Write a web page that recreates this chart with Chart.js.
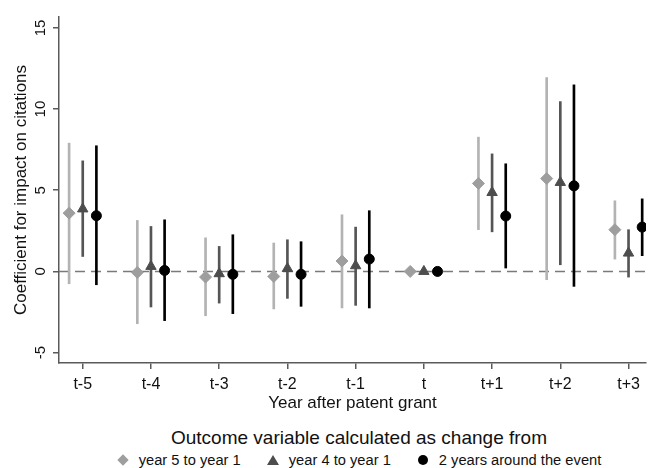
<!DOCTYPE html>
<html>
<head>
<meta charset="utf-8">
<script src="https://cdn.jsdelivr.net/npm/chart.js@4"></script>
<style>
  body { margin: 0; background: #fff; font-family: Arial, "Liberation Sans", sans-serif; }
  #wrap { position: relative; width: 653px; height: 468px; }
  #plot { position: absolute; left: 0; top: 0; width: 653px; height: 415px; }
  #legend { position: absolute; left: 62px; top: 426px; width: 594px; text-align: center; color: #111; }
  #legend .title { font-size: 19px; line-height: 24px; }
  #legend .items { display: flex; justify-content: center; align-items: center; font-size: 14.7px; line-height: 20px; }
  #legend .item { display: flex; align-items: center; margin: 0 13px; }
  #legend .mk { width: 12px; height: 12px; margin-right: 10px; position: relative; }
  .diamond::after { content: ''; position: absolute; left: 2px; top: 2px; width: 8px; height: 8px; background: #9e9e9e; transform: rotate(45deg); }
  .triangle::after { content: ''; position: absolute; left: 0; top: 1px; border-left: 6px solid transparent; border-right: 6px solid transparent; border-bottom: 10px solid #4d4d4d; }
  .circle::after { content: ''; position: absolute; left: 1px; top: 1px; width: 10px; height: 10px; border-radius: 50%; background: #000; }
</style>
</head>
<body>
<div id="wrap">
  <div id="plot"><canvas id="coefChart"></canvas></div>
  <div id="legend"></div>
</div>
<script>
// Years relative to the patent grant
const categories = ['t-5', 't-4', 't-3', 't-2', 't-1', 't', 't+1', 't+2', 't+3'];
const yTicks = [-5, 0, 5, 10, 15];

// Change from year 5 to year 1
const y51Coef = [3.59, -0.06, -0.35, -0.31, 0.64, 0, 5.42, 5.72, 2.57];
const y51Low  = [-0.76, -3.22, -2.73, -2.31, -2.25, 0, 2.57, -0.51, 0.76];
const y51High = [7.90, 3.14, 2.07, 1.75, 3.49, 0, 8.27, 11.94, 4.35];

// Change from year 4 to year 1
const y41Coef = [3.85, 0.31, -0.14, 0.18, 0.35, 0, 4.86, 5.48, 1.13];
const y41Low  = [0.92, -2.19, -1.95, -1.66, -2.09, 0, 2.44, 0.41, -0.35];
const y41High = [6.81, 2.77, 1.54, 1.95, 2.73, 0, 7.24, 10.46, 2.57];

// Change over 2 years around the event
const aroundCoef = [3.43, 0.06, -0.18, -0.18, 0.76, 0, 3.41, 5.27, 2.73];
const aroundLow  = [-0.82, -3.03, -2.60, -2.15, -2.25, 0, 0.21, -0.92, 0.97];
const aroundHigh = [7.74, 3.18, 2.26, 1.83, 3.74, 0, 6.63, 11.49, 4.47];

const series = [
    { label: 'year 5 to year 1', coef: y51Coef, low: y51Low, high: y51High, shift: -0.2,
      style: 'rectRot', radius: 6, color: '#9e9e9e', barColor: '#b3b3b3', css: 'diamond' },
    { label: 'year 4 to year 1', coef: y41Coef, low: y41Low, high: y41High, shift: 0,
      style: 'triangle', radius: 6, color: '#4d4d4d', barColor: '#555555', css: 'triangle' },
    { label: '2 years around the event', coef: aroundCoef, low: aroundLow, high: aroundHigh, shift: 0.2,
      style: 'circle', radius: 5, color: '#000000', barColor: '#000000', css: 'circle' }
];

const FONT = 'Arial, "Liberation Sans", sans-serif';
const AXIS = '#5a5a5a';

// Markers first so they sit on top of the confidence bars
const pointSets = series.map(s => ({
    type: 'scatter',
    label: s.label,
    data: s.coef.map((v, i) => ({ x: i + s.shift, y: v })),
    pointStyle: s.style,
    pointRadius: s.radius,
    backgroundColor: s.color,
    borderColor: s.color,
    borderWidth: 1
}));

const barSets = series.map(s => ({
    type: 'bar',
    label: s.label + ' CI',
    data: s.low.map((v, i) => ({ x: i + s.shift, y: [v, s.high[i]] })),
    backgroundColor: s.barColor,
    borderWidth: 0,
    barThickness: 2,
    grouped: false
}));

// Dashed reference line at zero
const zeroLine = {
    id: 'zeroLine',
    beforeDatasetsDraw(chart) {
        const { ctx, chartArea, scales } = chart;
        const py = scales.y.getPixelForValue(0);
        ctx.save();
        ctx.strokeStyle = '#7a7a7a';
        ctx.lineWidth = 1.5;
        ctx.setLineDash([10, 6]);
        ctx.beginPath();
        ctx.moveTo(chartArea.left, py);
        ctx.lineTo(chartArea.right, py);
        ctx.stroke();
        ctx.restore();
    }
};

new Chart(document.getElementById('coefChart'), {
    type: 'scatter',
    data: { datasets: [...pointSets, ...barSets] },
    plugins: [zeroLine],
    options: {
        responsive: true,
        maintainAspectRatio: false,
        animation: false,
        events: [],
        layout: { padding: { top: 17, right: 0, left: 0, bottom: 0 } },
        plugins: {
            legend: { display: false },
            tooltip: { enabled: false }
        },
        scales: {
            x: {
                type: 'linear',
                offset: false,
                min: -0.348,
                max: 8.256,
                afterBuildTicks: scale => { scale.ticks = categories.map((_, i) => ({ value: i })); },
                afterFit: scale => { scale.height = 52; },
                grid: { offset: false, drawOnChartArea: false, drawTicks: true, tickLength: 6, color: AXIS, lineWidth: 1.5 },
                border: { color: AXIS, width: 1.5 },
                ticks: {
                    autoSkip: false, maxRotation: 0, padding: 6, color: '#111',
                    font: { family: FONT, size: 16 },
                    callback: v => categories[Math.round(v)]
                },
                title: {
                    display: true, text: 'Year after patent grant', color: '#111',
                    font: { family: FONT, size: 17 }, padding: { top: 0, bottom: 1 }
                }
            },
            y: {
                min: -5.64,
                max: 15.67,
                afterBuildTicks: scale => { scale.ticks = yTicks.map(v => ({ value: v })); },
                afterFit: scale => { scale.width = 59; },
                grid: { drawOnChartArea: false, drawTicks: true, tickLength: 6, color: AXIS, lineWidth: 1.5 },
                border: { color: AXIS, width: 1.5 },
                ticks: {
                    minRotation: 90, maxRotation: 90, crossAlign: 'center', padding: 4, color: '#111',
                    font: { family: FONT, size: 15 },
                    callback: v => String(v)
                },
                title: {
                    display: true, text: 'Coefficient for impact on citations', color: '#111',
                    font: { family: FONT, size: 17 }, padding: { top: 11, bottom: 0 }
                }
            }
        }
    }
});

// Legend below the plot
const legend = document.getElementById('legend');
legend.innerHTML = '<div class="title">Outcome variable calculated as change from</div>' +
    '<div class="items">' + series.map(s =>
        `<div class="item"><span class="mk ${s.css}"></span><span>${s.label}</span></div>`).join('') +
    '</div>';
</script>
</body>
</html>
